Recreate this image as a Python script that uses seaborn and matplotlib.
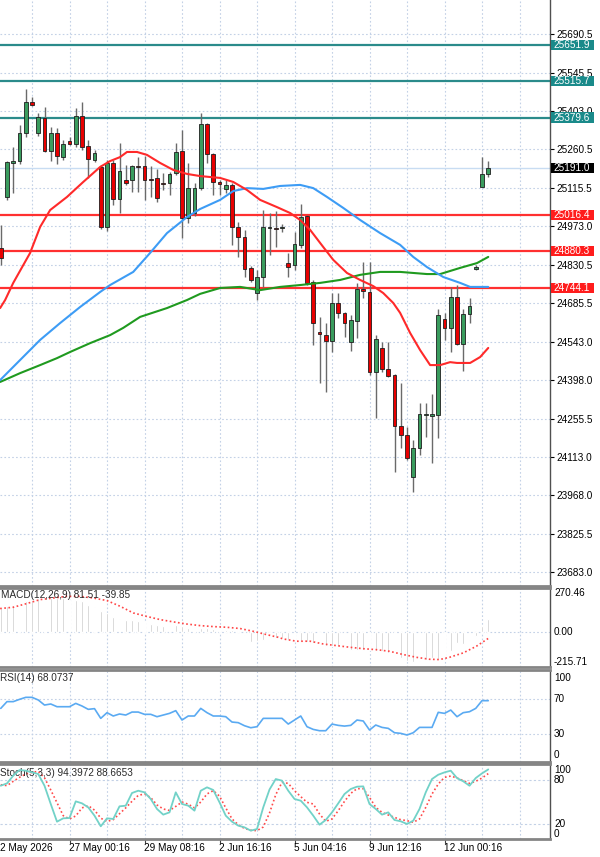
import numpy as np
import pandas as pd
import matplotlib
matplotlib.use('Agg')
import matplotlib.pyplot as plt
import matplotlib.transforms as mtransforms
from matplotlib.patches import Rectangle
import seaborn as sns

### data
# candles (H4), index 0..78
opens = [24892, 25083, 25210, 25217, 25322, 25438, 25322, 25378, 25255, 25322,
         25232, 25292, 25281, 25385, 25273, 25221, 25195, 24971, 25210, 25075,
         25146, 25146, 25199, 25199, 25150, 25154, 25135, 25135, 25173, 25255,
         25004, 25023, 25116, 25356, 25243, 25139, 25113, 25128, 24971, 24933,
         24818, 24724, 24784, 24967, 24967, 24967, 24836, 24829, 24904, 25012,
         24765, 24579, 24567, 24545, 24687, 24650, 24541, 24620, 24739, 24728,
         24429, 24519, 24440, 24418, 24228, 24194, 24037, 24145, 24269, 24265,
         24269, 24627, 24594, 24709, 24534, 24646, 24814, 25120, 25169]
highs = [24978, 25216, 25270, 25352, 25486, 25456, 25397, 25419, 25344, 25341,
         25296, 25307, 25415, 25438, 25296, 25258, 25202, 25221, 25221, 25285,
         25202, 25202, 25232, 25236, 25199, 25187, 25173, 25176, 25285, 25333,
         25210, 25135, 25397, 25359, 25247, 25146, 25146, 25135, 24989, 24960,
         24825, 24810, 25034, 25023, 25031, 24982, 24874, 24952, 25057, 25016,
         24772, 24635, 24612, 24724, 24724, 24653, 24642, 24762, 24840, 24840,
         24567, 24541, 24541, 24420, 24388, 24224, 24175, 24313, 24313, 24347,
         24665, 24650, 24747, 24754, 24665, 24706, 24829, 25232, 25217]
lows = [24829, 25072, 25098, 25206, 25307, 25423, 25311, 25251, 25217, 25206,
        25221, 25277, 25270, 25258, 25154, 25214, 24963, 24956, 25053, 25023,
        25128, 25102, 25102, 25072, 25083, 25064, 25109, 25090, 25165, 24930,
        24986, 25012, 25109, 25210, 25090, 25090, 25098, 24904, 24859, 24784,
        24765, 24698, 24747, 24866, 24896, 24952, 24784, 24810, 24892, 24754,
        24530, 24388, 24355, 24504, 24631, 24560, 24508, 24556, 24706, 24418,
        24257, 24429, 24411, 24056, 24145, 24101, 23981, 24119, 24186, 24089,
        24183, 24549, 24504, 24530, 24433, 24612, 24810, 25120, 25158]
closes = [24855, 25214, 25217, 25322, 25438, 25426, 25382, 25255, 25322, 25236,
          25281, 25281, 25385, 25270, 25225, 25247, 24971, 25210, 25075, 25180,
          25135, 25199, 25196, 25146, 25148, 25079, 25133, 25169, 25251, 25004,
          25116, 25116, 25356, 25243, 25139, 25131, 25128, 24971, 24933, 24814,
          24773, 24784, 24971, 24969, 24965, 24968, 24821, 24907, 25008, 24762,
          24612, 24571, 24545, 24687, 24650, 24612, 24623, 24739, 24732, 24429,
          24552, 24440, 24414, 24228, 24194, 24108, 24145, 24272, 24270, 24272,
          24642, 24594, 24709, 24534, 24646, 24676, 24821, 25169, 25191]

# moving averages
ma_red_x = [-0.1, 0.7, 2.0, 4.7, 6.3, 7.9, 10.6, 13.2, 15.9, 17.5, 19.1, 20.2, 21.8, 23.4,
            25.5, 27.6, 29.8, 31.9, 35.1, 37.2, 39.4, 41.5, 44.2, 46.3, 47.9, 49.5, 51.6,
            53.2, 55.4, 57.5, 59.6, 61.2, 62.8, 63.9, 65.5, 67.1, 68.7, 70.3, 71.9, 73.0,
            75.1, 76.7, 78.0]
ma_red = [24668, 24698, 24762, 24874, 24971, 25034, 25083, 25139, 25195, 25217, 25232, 25251,
          25251, 25240, 25210, 25184, 25169, 25161, 25154, 25139, 25109, 25072, 25045, 25023,
          24997, 24960, 24896, 24848, 24799, 24773, 24750, 24724, 24687, 24650, 24575, 24511,
          24455, 24455, 24466, 24463, 24463, 24485, 24519]
ma_blue_x = [-0.1, 3.1, 6.3, 9.5, 12.7, 15.9, 17.5, 21.2, 23.9, 26.6, 29.8, 31.9, 35.1, 37.2,
             39.4, 42.0, 44.7, 47.9, 50.0, 52.2, 54.8, 57.5, 60.7, 63.9, 66.0, 68.2, 70.8,
             73.5, 75.1, 78.0]
ma_blue = [24399, 24474, 24549, 24612, 24672, 24728, 24754, 24803, 24874, 24948, 25008, 25038,
           25072, 25105, 25116, 25113, 25124, 25128, 25116, 25083, 25042, 24997, 24948, 24904,
           24859, 24821, 24784, 24762, 24747, 24747]
ma_green_x = [-0.1, 3.1, 6.3, 9.0, 11.1, 14.3, 17.5, 19.6, 22.3, 26.6, 29.8, 31.9, 35.1, 38.3,
              41.5, 44.7, 47.9, 51.1, 54.3, 57.5, 60.7, 63.9, 68.2, 70.3, 73.5, 76.2, 78.0]
ma_green = [24392, 24425, 24455, 24481, 24504, 24537, 24567, 24594, 24635, 24668, 24698, 24721,
            24743, 24747, 24735, 24747, 24754, 24762, 24773, 24792, 24803, 24803, 24795, 24795,
            24818, 24836, 24859]

resistance = [25651.9, 25515.7, 25379.6]
support = [25016.4, 24880.3, 24744.1]
last_price = 25191.0
price_ticks = [25690.5, 25545.5, 25403.0, 25260.5, 25115.5, 24973.0, 24830.5, 24685.5,
               24543.0, 24398.0, 24255.5, 24113.0, 23968.0, 23825.5, 23683.0]

# MACD(12,26,9)
macd_hist = [148, 158, 168, 178, 189, 199, 209, 209, 209, 209,
             209, 199, 199, 189, 168, 152, 127, 117, 92, 80,
             76, 76, 66, 66, 49, 45, 35, 35, 45, 35,
             25, 29, 25, 25, 21, 25, 14, 14, 4, -16,
             -62, -57, -47, -33, -37, -37, -47, -53, -57, -62,
             -68, -98, -88, -88, -88, -98, -109, -109, -109, -109,
             -119, -119, -129, -139, -160, -176, -185, -180, -170, -160,
             -164, -150, -119, -68, -74, -47, -27, 35, 81.51]
macd_sig_x = [-0.1, 2.0, 4.1, 6.3, 8.4, 10.5, 12.7, 14.8, 17.0, 19.1, 21.2, 23.3, 25.5, 27.6,
              29.7, 31.9, 34.0, 36.1, 38.3, 40.4, 42.5, 44.4, 45.2, 47.3, 49.5, 51.6, 53.7,
              55.8, 58.0, 60.1, 62.2, 64.4, 66.5, 68.6, 70.2, 71.8, 74.0, 76.1, 78.0]
macd_sig = [144, 152, 174, 199, 209, 219, 219, 209, 193, 158, 117, 96, 76, 62,
            49, 39, 33, 29, 21, 4, -16, -33, -43, -57, -57, -74, -84,
            -94, -103, -109, -119, -139, -156, -168, -170, -156, -129, -88, -39.85]

# RSI(14)
rsi = [59.3, 67.0, 67.0, 69.6, 71.9, 71.9, 68.9, 63.1, 64.3, 61.2,
       61.2, 61.2, 65.0, 62.0, 58.2, 59.0, 47.9, 54.4, 50.6, 52.9,
       51.7, 55.1, 55.1, 52.5, 52.5, 49.8, 51.7, 53.6, 56.7, 46.0,
       50.6, 50.6, 59.3, 54.4, 50.6, 50.6, 49.8, 43.7, 43.0, 39.5,
       37.2, 38.4, 47.9, 47.9, 47.9, 47.9, 41.4, 46.0, 50.6, 38.4,
       35.3, 33.8, 33.8, 41.4, 39.9, 39.1, 39.9, 46.0, 44.9, 34.6,
       40.3, 37.6, 36.5, 31.5, 30.8, 28.9, 31.5, 37.6, 37.6, 37.6,
       54.8, 53.6, 57.4, 49.8, 54.4, 55.5, 59.3, 68.1, 68.07]

# Stochastic(5,3,3)
stoch_k = [72.2, 75.4, 85.9, 93.6, 92.7, 90.4, 88.1, 72.2, 47.3, 23.2,
           27.8, 28.2, 50.9, 48.2, 42.7, 31.4, 16.9, 27.8, 26.9, 44.1,
           45.0, 62.3, 65.4, 63.2, 54.1, 40.5, 32.8, 35.9, 63.2, 47.3,
           45.0, 38.2, 65.4, 70.0, 66.4, 49.6, 31.4, 23.2, 17.8, 15.5,
           11.0, 13.2, 42.7, 67.0, 81.3, 79.1, 65.4, 54.1, 51.8, 42.7,
           31.4, 19.1, 25.5, 35.9, 48.2, 60.9, 67.7, 70.9, 71.3, 47.3,
           40.5, 32.8, 35.9, 25.5, 23.7, 20.0, 24.6, 40.5, 63.2, 81.3,
           87.2, 90.4, 92.7, 82.7, 78.2, 72.2, 82.7, 89.0, 94.4]
stoch_d = [73.6, 72.3, 78.2, 83.6, 88.1, 90.4, 91.8, 83.0, 66.4, 49.0,
           31.4, 27.0, 31.0, 42.0, 45.0, 39.0, 28.0, 23.5, 26.0, 34.0,
           42.0, 51.0, 59.0, 61.0, 56.0, 46.0, 40.5, 38.5, 44.0, 50.0,
           47.0, 42.0, 50.0, 61.0, 65.5, 58.0, 42.0, 27.0, 19.0, 14.0,
           11.5, 11.0, 16.0, 35.0, 60.0, 76.8, 75.4, 65.4, 57.3, 49.6,
           47.3, 33.7, 23.7, 26.9, 38.2, 50.9, 61.8, 68.2, 68.2, 56.4,
           42.7, 35.9, 32.3, 29.1, 25.9, 24.6, 22.3, 26.9, 42.7, 60.9,
           74.5, 83.6, 85.4, 82.7, 79.1, 75.4, 78.2, 82.7, 88.67]

date_pos = [11, 23, 35, 47, 59, 71]
date_labels = ['27 May 00:16', '29 May 08:16', '2 Jun 16:16',
               '5 Jun 04:16', '9 Jun 12:16', '12 Jun 00:16']
first_date = '2 May 2026'   # visible part of the first label at the left edge

#%% style
sns.set_theme(style='white')
plt.rcParams['font.family'] = ['Liberation Sans', 'DejaVu Sans']
FS = 7.2
grid_c = '#c3d1e6'
sep_c = '#858585'

W, H = 600.0, 857.0
fig = plt.figure(figsize=(6, 8.57), dpi=100)


def panel(top, bottom):
    a = fig.add_axes([0, (H - bottom) / H, 550 / W, (bottom - top) / H])
    a.set_xlim(-0.12, 87.88)
    a.set_xticks([])
    a.set_yticks([])
    a.spines['left'].set_visible(False)
    for s in ['top', 'bottom']:
        a.spines[s].set_color(sep_c)
        a.spines[s].set_linewidth(2.0)
    a.spines['right'].set_color('#505050')
    a.spines['right'].set_linewidth(1.0)
    for g in np.arange(5, 88, 6):
        a.axvline(g, color=grid_c, ls=(0, (1.5, 2)), lw=0.8, zorder=0)
    return a


def right_label(a, val, text, va='center'):
    tr = mtransforms.blended_transform_factory(a.transAxes, a.transData)
    a.text(1 + 4 / 550, val, text, transform=tr, ha='left', va=va,
           fontsize=FS, color='black', clip_on=False)


ax = panel(0, 586)
ax_macd = panel(588, 667)
ax_rsi = panel(670, 762)
ax_st = panel(764, 839)
ax.spines['top'].set_visible(False)

#%% main chart
ax.set_ylim(23629.9, 25818.6)
ax.yaxis.tick_right()
ax.set_yticks(price_ticks)
ax.set_yticklabels(['{:.1f}'.format(v) for v in price_ticks])
ax.tick_params(axis='y', right=True, length=3, width=0.8, pad=1.5, labelsize=FS,
               colors='black')
for v in price_ticks:
    ax.axhline(v, color=grid_c, ls=(0, (1.5, 2)), lw=0.8, zorder=0)

ax.axhline(last_price, color='#c8dcf2', lw=1.0, zorder=1)
for v in resistance:
    ax.axhline(v, color='#2b8b8b', lw=1.6, zorder=2)
for v in support:
    ax.axhline(v, color='#ff3030', lw=1.6, zorder=2)

idx = np.arange(len(opens))
o = np.array(opens, float)
c = np.array(closes, float)
body_low = np.minimum(o, c)
body_h = np.maximum(np.abs(c - o), 3.0)
cols = np.where(c >= o, '#3a9c5e', '#e80000')
ax.vlines(idx, lows, highs, color='#6a6a6a', lw=1.0, zorder=3)
ax.bar(idx, body_h, bottom=body_low, width=0.62, color=cols, edgecolor='#1e1e1e',
       linewidth=0.6, zorder=4)

sns.lineplot(x=ma_green_x, y=ma_green, ax=ax, color='#1f9a1f', lw=1.5, sort=False,
             estimator=None, zorder=5)
sns.lineplot(x=ma_blue_x, y=ma_blue, ax=ax, color='#3d9cf5', lw=1.5, sort=False,
             estimator=None, zorder=5)
sns.lineplot(x=ma_red_x, y=ma_red, ax=ax, color='#ff2a2a', lw=1.5, sort=False,
             estimator=None, zorder=5)
ax.set_xlim(-0.12, 87.88)
ax.set_xlabel('')
ax.set_ylabel('')

# price boxes on the right scale
trm = mtransforms.blended_transform_factory(ax.transAxes, ax.transData)
for v, fc in [(x, '#1a8a8a') for x in resistance] + [(x, '#ff1c1c') for x in support] + \
        [(last_price, '#000000')]:
    ax.add_patch(Rectangle((1 + 1 / 550, v - 19), 43 / 550, 38, transform=trm,
                           facecolor=fc, edgecolor='none', clip_on=False, zorder=10))
    ax.text(1 + 3.5 / 550, v, '{:.1f}'.format(v), transform=trm, ha='left', va='center',
            fontsize=FS, color='white', clip_on=False, zorder=11)

#%% MACD
ax_macd.set_ylim(-215.71, 270.46)
ax_macd.axhline(0, color=grid_c, ls=(0, (1.5, 2)), lw=0.8, zorder=0)
ax_macd.bar(idx, macd_hist, width=0.28, color='#c4c4c4', zorder=2)
sns.lineplot(x=macd_sig_x, y=macd_sig, ax=ax_macd, color='#ff4545', lw=1.2,
             linestyle=(0, (1, 1.5)), sort=False, estimator=None, zorder=3)
ax_macd.set_xlim(-0.12, 87.88)
ax_macd.set_xlabel('')
ax_macd.set_ylabel('')
ax_macd.text(0.002, 1 - 7 / 79, 'MACD(12,26,9) 81.51 -39.85', transform=ax_macd.transAxes,
             ha='left', va='center', fontsize=FS, color='#2a2a2a')
right_label(ax_macd, 270.46, '270.46', 'top')
right_label(ax_macd, 0, '0.00')
right_label(ax_macd, -215.71, '-215.71', 'bottom')

#%% RSI
ax_rsi.set_ylim(-1.9, 103.1)
for v in [70, 30]:
    ax_rsi.axhline(v, color=grid_c, ls=(0, (1.5, 2)), lw=0.8, zorder=0)
sns.lineplot(x=idx, y=rsi, ax=ax_rsi, color='#5aaaf2', lw=1.2, zorder=3)
ax_rsi.set_xlim(-0.12, 87.88)
ax_rsi.set_xlabel('')
ax_rsi.set_ylabel('')
ax_rsi.text(0.0, 1 - 8 / 92, 'RSI(14) 68.0737', transform=ax_rsi.transAxes,
            ha='left', va='center', fontsize=FS, color='#2a2a2a')
right_label(ax_rsi, 100, '100', 'top')
right_label(ax_rsi, 70, '70')
right_label(ax_rsi, 30, '30')
right_label(ax_rsi, 0, '0', 'bottom')

#%% Stochastic
ax_st.set_ylim(-0.4, 101.8)
for v in [80, 20]:
    ax_st.axhline(v, color=grid_c, ls=(0, (2, 2)), lw=0.8, zorder=0)
sns.lineplot(x=idx, y=stoch_d, ax=ax_st, color='#ff4a4a', lw=1.2,
             linestyle=(0, (1, 1.5)), zorder=3)
sns.lineplot(x=idx, y=stoch_k, ax=ax_st, color='#72d2c8', lw=1.3, zorder=4)
ax_st.set_xlim(-0.12, 87.88)
ax_st.set_xlabel('')
ax_st.set_ylabel('')
ax_st.text(0.0, 1 - 9 / 75, 'Stoch(5,3,3) 94.3972 88.6653', transform=ax_st.transAxes,
           ha='left', va='center', fontsize=FS, color='#2a2a2a')
right_label(ax_st, 100, '100', 'top')
right_label(ax_st, 80, '80')
right_label(ax_st, 20, '20')
right_label(ax_st, 0, '0', 'bottom')

# time axis
trd = mtransforms.blended_transform_factory(ax_st.transData, fig.transFigure)
for p, lab in zip(date_pos, date_labels):
    ax_st.plot([p, p], [(H - 839) / H, (H - 843) / H], transform=trd, color='#404040',
               lw=0.8, clip_on=False)
    ax_st.text(p - 0.15, (H - 848) / H, lab, transform=trd, ha='left', va='center',
               fontsize=FS, color='black', clip_on=False)
fig.text(0.5 / W, (H - 848) / H, first_date, ha='left', va='center', fontsize=FS,
         color='black')

fig.savefig('out.png', dpi=100)
